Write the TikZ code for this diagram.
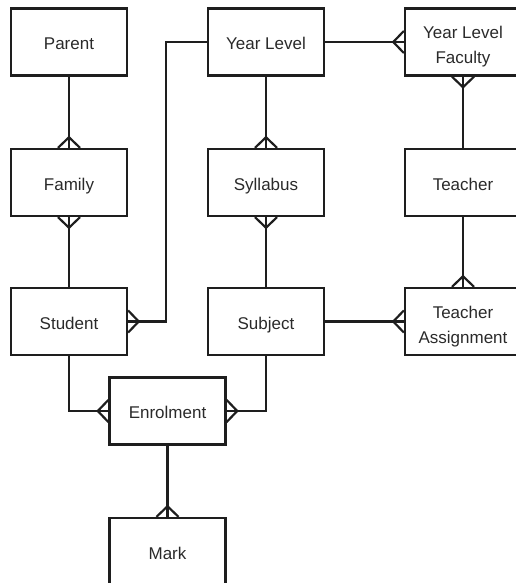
\documentclass[tikz,border=0pt]{standalone}
\usepackage{fontspec}
\setmainfont{Liberation Sans}
\definecolor{ink}{HTML}{1E1E1E}
\definecolor{txt}{HTML}{2A2A2A}
\newcommand{\firstlinestrut}{\rule{0pt}{18pt}}
\tikzset{
  entity/.style={draw=ink, line width=2.4pt, minimum width=116pt, minimum height=67pt,
    inner sep=0pt, align=center, text=txt, text depth=0pt,
    font=\fontsize{17}{25}\selectfont},
  oneline/.style={entity, execute at begin node={\rule{0pt}{15.5pt}}},
  conn/.style={draw=ink, line width=2.2pt},
  crowfoot/.pic={\draw[conn, line join=miter] (-11pt,0) -- (0,10.5pt) -- (11pt,0);}
}
\begin{document}
\begin{tikzpicture}[x=1pt, y=-1pt]
\useasboundingbox (0,0) rectangle (515,583);

% entities
\node[oneline] (parent)  at (69,42)      {Parent};
\node[oneline] (family)  at (69,182.5)   {Family};
\node[oneline] (student) at (69,321.5)   {Student};
\node[oneline] (year)    at (266,42)     {Year Level};
\node[oneline] (syll)    at (266,182.5)  {Syllabus};
\node[oneline] (subject) at (266,321.5)  {Subject};
\node[entity]  (ylf)     at (463,42)     {\firstlinestrut Year Level\\Faculty};
\node[oneline] (teacher) at (463,182.5)  {Teacher};
\node[entity]  (assign)  at (463,321.5)  {\firstlinestrut Teacher\\Assignment};
\node[oneline] (enrol)   at (167.5,411)  {Enrolment};
\node[oneline] (mark)    at (167.5,551.5){Mark};

% relationships
\draw[conn] (parent.south) -- (family.north);
\draw[conn] (family.south) -- (student.north);
\draw[conn] (year.west) -- ++(-41,0) |- (student.east);
\draw[conn] (year.east) -- (ylf.west);
\draw[conn] (year.south) -- (syll.north);
\draw[conn] (syll.south) -- (subject.north);
\draw[conn] (ylf.south) -- (teacher.north);
\draw[conn] (teacher.south) -- (assign.north);
\draw[conn] (subject.east) -- (assign.west);
\draw[conn] (student.south) |- (enrol.west);
\draw[conn] (subject.south) |- (enrol.east);
\draw[conn] (enrol.south) -- (mark.north);

% many-ends
\pic at (family.north) {crowfoot};
\pic[rotate=180] at (family.south) {crowfoot};
\pic[rotate=-90] at (student.east) {crowfoot};
\pic[rotate=90] at (ylf.west) {crowfoot};
\pic at (syll.north) {crowfoot};
\pic[rotate=180] at (syll.south) {crowfoot};
\pic[rotate=180] at (ylf.south) {crowfoot};
\pic at (assign.north) {crowfoot};
\pic[rotate=90] at (assign.west) {crowfoot};
\pic[rotate=90] at (enrol.west) {crowfoot};
\pic[rotate=-90] at (enrol.east) {crowfoot};
\pic at (mark.north) {crowfoot};
\end{tikzpicture}
\end{document}
